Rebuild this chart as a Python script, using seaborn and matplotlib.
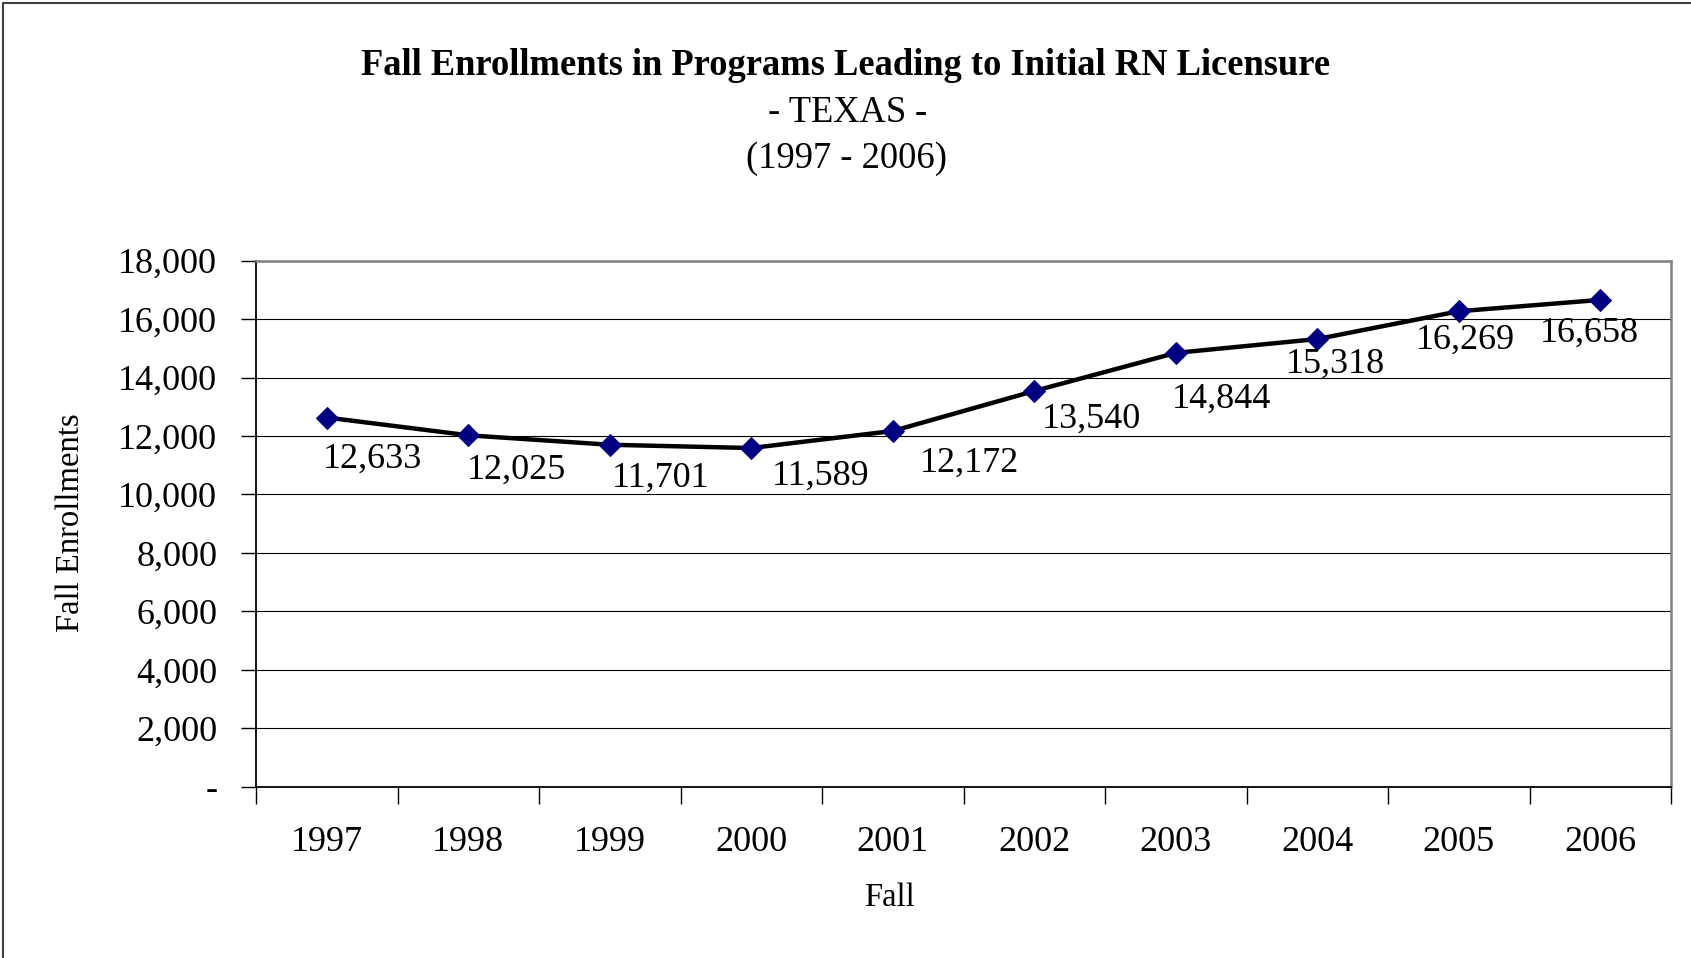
import matplotlib
matplotlib.use('Agg')
import matplotlib.pyplot as plt
import seaborn as sns
import pandas as pd
import numpy as np
from matplotlib.lines import Line2D
from matplotlib.ticker import FuncFormatter, FixedLocator

# data
years = ['1997', '1998', '1999', '2000', '2001', '2002', '2003', '2004', '2005', '2006']
enrollments = [12633, 12025, 11701, 11589, 12172, 13540, 14844, 15318, 16269, 16658]

# where excel put each data label, relative to its point (points)
label_dx = [33, 35, 37, 50, 55, 41, 33, 13, 5, -8]
label_dy = [-30, -25, -24, -20, -23, -20, -33, -18, -21, -24]

df = pd.DataFrame({'year': years, 'enroll': enrollments})

sns.set_theme(style='white')
plt.rcParams['font.family'] = ['Liberation Serif', 'DejaVu Serif']
plt.rcParams['text.color'] = 'black'
plt.rcParams['xtick.color'] = 'black'
plt.rcParams['ytick.color'] = 'black'

fig = plt.figure(figsize=(16.91, 9.58), dpi=100)
ax = fig.add_axes([0.1514, 0.1788, 0.9882 - 0.1514, 0.7279 - 0.1788])

sns.lineplot(data=df, x='year', y='enroll', ax=ax, color='black', linewidth=3.2,
             marker='D', markersize=11, markerfacecolor='#000080',
             markeredgecolor='#000080', zorder=3)

for i, v in enumerate(enrollments):
    ax.annotate(f'{v:,}', (i, v), xytext=(label_dx[i], label_dy[i]),
                textcoords='offset points', ha='center', va='center',
                fontsize=26, color='black')

ax.set_xlim(-0.5, len(years) - 0.5)
ax.set_ylim(0, 18000)
ax.set_yticks(np.arange(0, 18001, 2000))
ax.yaxis.set_major_formatter(FuncFormatter(lambda v, p: '-' if v == 0 else f'{v:,.0f}'))
ax.grid(axis='y', color='black', linewidth=0.8)
ax.set_axisbelow(True)

# ticks sit between categories, labels under categories
ax.xaxis.set_minor_locator(FixedLocator(np.arange(-0.5, len(years), 1.0)))
ax.tick_params(axis='x', which='major', length=0, pad=28, labelsize=26)
ax.tick_params(axis='x', which='minor', length=12, width=1, color='black', direction='out', bottom=True)
ax.tick_params(axis='y', length=11, width=1, color='black', direction='out', left=True,
               pad=17, labelsize=26)

for s in ['left', 'bottom']:
    ax.spines[s].set_color('black')
    ax.spines[s].set_linewidth(1.3)
for s in ['top', 'right']:
    ax.spines[s].set_color('#808080')
    ax.spines[s].set_linewidth(1.8)

ax.set_xlabel('')
ax.set_ylabel('')
fig.text(0.526, 0.0626, 'Fall', ha='center', va='center', fontsize=23.5)
fig.text(0.042, 0.454, 'Fall Enrollments', ha='center', va='center', rotation=90, fontsize=23.5)

fig.text(0.5003, 0.9312, 'Fall Enrollments in Programs Leading to Initial RN Licensure',
         ha='center', va='center', fontsize=26.3, fontweight='bold')
texas = fig.text(0.4975, 0.8826, '- TEXAS ', ha='center', va='center', fontsize=26.3)
ax.annotate('-', xy=(1, 0.5), xycoords=texas, ha='left', va='center',
            fontsize=26.3, fontweight='bold', annotation_clip=False)
fig.text(0.5003, 0.8340, '(1997 - 2006)', ha='center', va='center', fontsize=26.3)

# outer chart border (only left and top edges are inside the picture)
fig.add_artist(Line2D([0.0018, 0.0018], [0, 0.9966], color='#404040', linewidth=1.5))
fig.add_artist(Line2D([0.0018, 1.0], [0.9966, 0.9966], color='#404040', linewidth=1.5))

fig.savefig('out.png', dpi=100)
